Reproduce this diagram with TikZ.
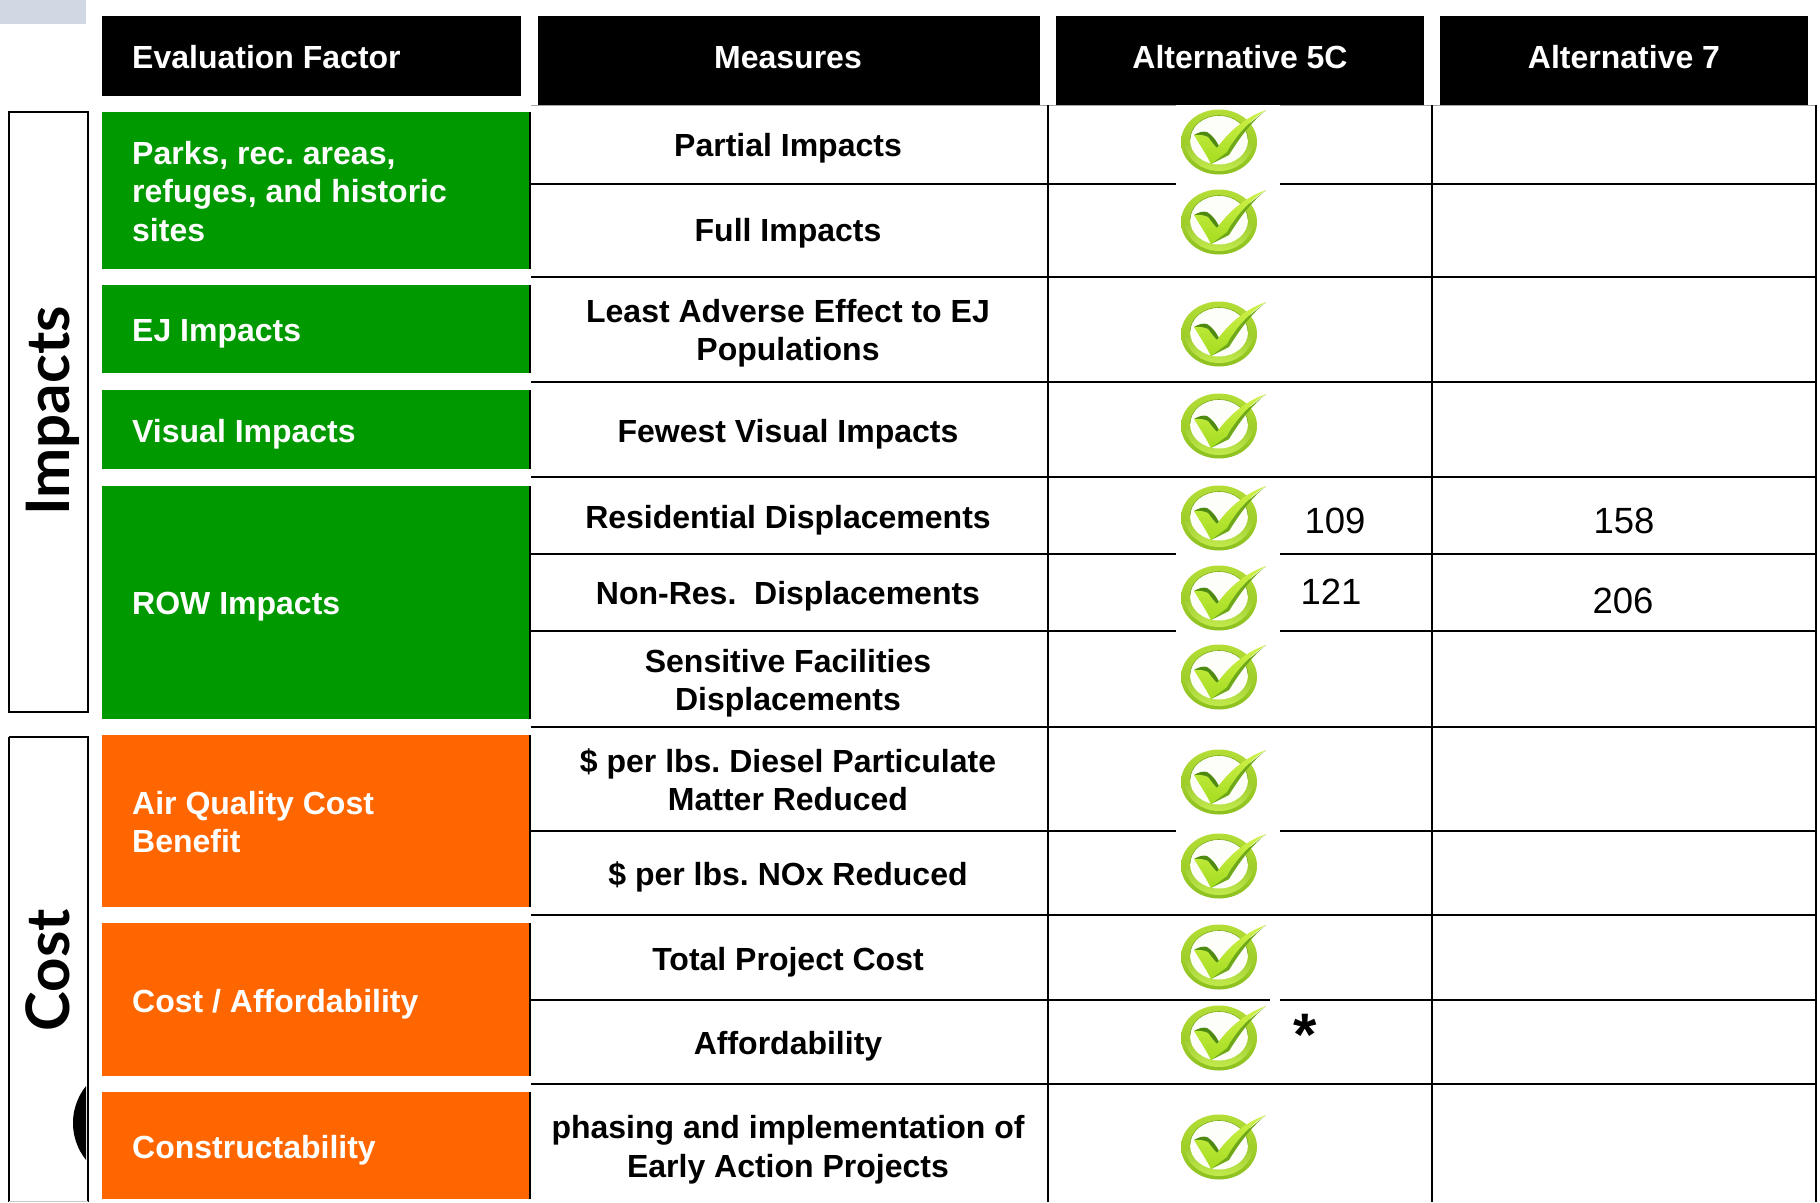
\documentclass[tikz,border=0pt]{standalone}
\usepackage{fontspec}
\setmainfont{Liberation Sans}
\newfontfamily\sidefont{Lato}
\frenchspacing
\definecolor{grn}{HTML}{009900}
\definecolor{org}{HTML}{FF6600}
\definecolor{paleblue}{HTML}{D0D8E4}
\definecolor{ringtop}{HTML}{B4DE36}
\definecolor{ringbot}{HTML}{8CC01E}
\definecolor{ringdark}{HTML}{78AC18}
\definecolor{ringlite}{HTML}{C2EA4C}
\definecolor{tickhi}{HTML}{D0F24A}
\definecolor{ticklo}{HTML}{A4DC20}
\definecolor{tickdark}{HTML}{6FA818}
\definecolor{tickshade}{HTML}{4E8A12}
\tikzset{
  x=1pt,y=-1pt,
  rowline/.style={draw=black,line width=2.7pt},
  colline/.style={draw=black,line width=2.7pt},
  sidebox/.style={draw=black,line width=2pt,fill=white},
  txt/.style={font=\fontsize{32}{38.5}\selectfont\bfseries,inner sep=0pt},
  hdtxt/.style={txt,text=white},
  lefttxt/.style={hdtxt,anchor=west,align=left},
  midtxt/.style={txt,text=black,align=center},
  numtxt/.style={font=\fontsize{36.5}{40}\selectfont,inner sep=0pt,text=black},
  sidetxt/.style={font=\fontsize{60}{60}\selectfont\sidefont\bfseries,inner sep=0pt,rotate=90,anchor=base},
  chk/.pic={
    \shade[top color=ringtop,bottom color=ringbot] (0,0) ellipse [x radius=38,y radius=32.5];
    \begin{scope}
      \clip (-40,3) rectangle (40,34);
      \shade[top color=ringdark,bottom color=ringlite] (0,-1) ellipse [x radius=34,y radius=30];
    \end{scope}
    \fill[white!97!ringtop] (0,-2) ellipse [x radius=29,y radius=24.5];
    \draw[ringdark,line width=0.6pt] (-29,-2) arc [start angle=180,end angle=360,x radius=29,y radius=24.5];
    \fill[tickdark] (-8,22) -- (10,13) .. controls (18,0) and (30,-18) .. (47,-32) -- (20,-10) -- cycle;
    \fill[tickshade] (-25,-7) .. controls (-20,-10) and (-16,-11) .. (-12,-10) .. controls (-7,-7) and (-3,-2) .. (0,4) -- (-4,8) -- (-15,-4) -- cycle;
    \shade[top color=tickhi,bottom color=ticklo] (-25,-7) .. controls (-20,-7.5) and (-15,-7) .. (-11,-5) .. controls (-8,-1) and (-5,3) .. (-2,6) .. controls (8,-8) and (24,-24) .. (47,-32) .. controls (30,-22) and (14,-2) .. (8,10) -- (-8,22) .. controls (-13,12) and (-19,3) .. (-25,-7) -- cycle;
  }
}
\begin{document}
\begin{tikzpicture}
\useasboundingbox (0,0) rectangle (1820,1202);
\fill[white] (0,0) rectangle (1820,1202);
\fill[paleblue] (0,0) rectangle (86,24);

% table lines
\draw[gray!70,line width=1pt] (531,105.5) -- (1816,105.5);
\foreach \yy in {184,277,382,477,554,631,727,831,915,1000,1084}
  \draw[rowline] (531,\yy) -- (1816,\yy);
\foreach \xx in {1048,1432,1816}
  \draw[colline] (\xx,105) -- (\xx,1202);

% white patches behind check marks
\fill[white] (1176,105) rectangle (1270,195);
\fill[white] (1270,103) rectangle (1280,195);
\foreach \yy in {554,631,831}
  \fill[white] (1176,\yy-8) rectangle (1280,\yy+8);
\fill[white] (1176,996) rectangle (1280,1004);
\fill[black] (1176,999) rectangle (1270,1000.5);

% headers
\fill[black] (102,16) rectangle (521,96);
\fill[black] (538,16) rectangle (1040,105);
\fill[black] (1056,16) rectangle (1424,105);
\fill[black] (1440,16) rectangle (1808,105);
\node[lefttxt] (hef) at (132,57) {Evaluation Factor};
\node[hdtxt] (hme) at (788,58) {Measures};
\node[hdtxt] (h5c) at (1240,57) {Alternative 5C};
\node[hdtxt] (h7) at (1624,57) {Alternative 7};

% coloured factor boxes
\foreach \ya/\yb/\cc in {112/269/grn,285/373/grn,390/469/grn,486/719/grn,735/907/org,923/1076/org,1092/1199/org}{
  \fill[\cc] (102,\ya) rectangle (529,\yb);
  \fill[black] (529,\ya) rectangle (531,\yb);
}
\node[lefttxt] (f1) at (132,191.5) {Parks, rec. areas,\\refuges, and historic\\sites};
\node[lefttxt] (f2) at (132,334) {EJ Impacts};
\node[lefttxt] (f3) at (132,434.5) {Visual Impacts};
\node[lefttxt] (f4) at (132,606.5) {ROW Impacts};
\node[lefttxt] (f5) at (132,822) {Air Quality Cost\\Benefit};
\node[lefttxt] (f6) at (132,1004.5) {Cost / Affordability};
\node[lefttxt] (f7) at (132,1150.5) {Constructability};

% measures
\node[midtxt] (m1) at (788,148) {Partial Impacts};
\node[midtxt] (m2) at (788,233.5) {Full Impacts};
\node[midtxt] (m3) at (788,333) {Least Adverse Effect to EJ\\Populations};
\node[midtxt] (m4) at (788,434.5) {Fewest Visual Impacts};
\node[midtxt] (m5) at (788,520.5) {Residential Displacements};
\node[midtxt] (m6) at (788,596.5) {Non-Res.\ \ Displacements};
\node[midtxt] (m7) at (788,683) {Sensitive Facilities\\Displacements};
\node[midtxt] (m8) at (788,780) {\$ per lbs. Diesel Particulate\\Matter Reduced};
\node[midtxt] (m9) at (788,876.5) {\$ per lbs. NOx Reduced};
\node[midtxt] (m10) at (788,962.5) {Total Project Cost};
\node[midtxt] (m11) at (788,1046) {Affordability};
\node[midtxt] (m12) at (788,1149.5) {phasing and implementation of\\Early Action Projects};

% check marks
\foreach \yy in {142,222,334,426,518,598,677,782,866,957,1038,1147}
  \pic at (1219,\yy) {chk};

% numbers
\node[numtxt] (n1) at (1335,521) {109};
\node[numtxt] (n2) at (1624,521) {158};
\node[numtxt] (n3) at (1331,592) {121};
\node[numtxt] (n4) at (1623,601) {206};
\node[font=\fontsize{60}{60}\selectfont\bfseries,inner sep=0pt] (st) at (1305,1035) {*};

% side boxes
\draw[sidebox] (9,112) rectangle (88,712);
\draw[sidebox] (9,737) -- (88,737) -- (88,1202) (9,737) -- (9,1202);
\draw[gray!40,line width=1pt] (9,1201.5) -- (88,1201.5);
\node[sidetxt] (si) at (69,411) {Impacts};
\node[sidetxt] (sc) at (69,970) {Cost};
\begin{scope}
  \clip (60,1080) rectangle (86,1170);
  \fill[black] (132,1123) circle [radius=59];
\end{scope}
\end{tikzpicture}
\end{document}
